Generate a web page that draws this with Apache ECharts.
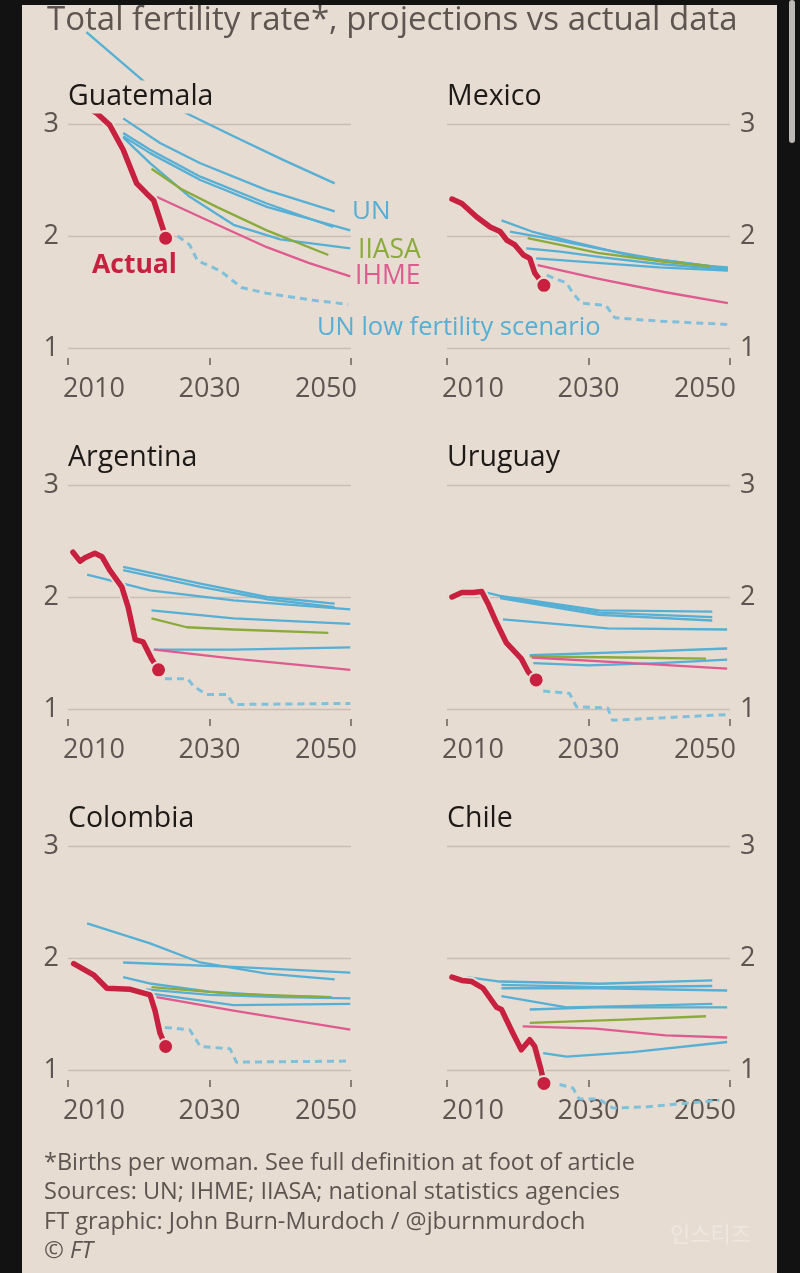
<!DOCTYPE html>
<html>
<head>
<meta charset="utf-8">
<script src="https://cdn.jsdelivr.net/npm/echarts@6/dist/echarts.min.js"></script>
<style>
html,body{margin:0;padding:0;background:#121212;}
#wrap{position:relative;width:800px;height:1273px;background:#121212;overflow:hidden;}
#paper{position:absolute;left:22px;top:5px;width:755px;height:1268px;background:#e7dcd2;}
#bar{position:absolute;left:789px;top:0;width:6px;height:143px;background:#bdb8b4;border-radius:3px;}
#chart{position:absolute;left:0;top:0;width:800px;height:1273px;}
</style>
</head>
<body>
<div id="wrap"><div id="paper"></div><div id="bar"></div><div id="chart"></div></div>
<script>
// ---------- DATA (year, births per woman) ----------
const xTicks = [2010, 2030, 2050];
const yTicks = [1, 2, 3];
const countries = ['Guatemala', 'Mexico', 'Argentina', 'Uruguay', 'Colombia', 'Chile'];

// Guatemala
const gtmActual = [[2012.9,3.14],[2014.0,3.10],[2015.9,2.99],[2017.8,2.77],[2019.7,2.47],[2021.1,2.38],[2022.1,2.32],[2023.5,2.05],[2023.8,1.98]];
const gtmUN = [
  [[2012.6,3.82],[2021.1,3.36],[2026.3,3.11],[2033.4,2.89],[2040.4,2.68],[2047.7,2.47]],
  [[2017.8,3.05],[2023.0,2.83],[2028.7,2.65],[2038.1,2.41],[2047.7,2.22]],
  [[2017.8,2.92],[2021.6,2.77],[2028.7,2.53],[2038.1,2.29],[2047.5,2.08]],
  [[2017.8,2.89],[2021.6,2.74],[2028.7,2.50],[2038.1,2.26],[2049.9,2.05]],
  [[2017.8,2.88],[2021.6,2.65],[2027.0,2.36],[2033.4,2.10],[2040.0,1.97],[2049.9,1.89]]
];
const gtmIIASA = [[2021.8,2.60],[2026.0,2.42],[2031.0,2.26],[2038.1,2.05],[2046.8,1.83]];
const gtmIHME = [[2022.5,2.35],[2028.7,2.17],[2038.1,1.90],[2044.0,1.76],[2049.9,1.64]];
const gtmLow = [[2025.5,2.00],[2027.2,1.92],[2028.3,1.78],[2031.5,1.69],[2033.3,1.60],[2034.5,1.54],[2038.0,1.49],[2041.0,1.46],[2045.5,1.42],[2049.6,1.39]];

// Mexico
const mexActual = [[2010.7,2.33],[2012.1,2.29],[2014.2,2.17],[2016.1,2.08],[2017.5,2.04],[2018.5,1.96],[2019.6,1.92],[2020.8,1.83],[2021.7,1.80],[2022.4,1.67],[2023.7,1.56]];
const mexUN = [
  [[2017.7,2.14],[2022.0,2.04],[2026.9,1.96],[2036.3,1.82],[2047.2,1.73],[2049.7,1.72]],
  [[2018.9,2.04],[2025.0,1.97],[2032.0,1.88],[2040.0,1.79],[2049.7,1.71]],
  [[2021.2,1.89],[2026.0,1.86],[2032.0,1.81],[2040.0,1.75],[2049.7,1.70]],
  [[2022.6,1.80],[2031.3,1.76],[2040.0,1.72],[2049.7,1.69]]
];
const mexIIASA = [[2021.4,1.98],[2026.0,1.92],[2031.3,1.85],[2040.7,1.77],[2047.2,1.73]];
const mexIHME = [[2022.8,1.74],[2031.3,1.62],[2040.7,1.50],[2049.7,1.40]];
const mexLow = [[2024.1,1.65],[2026.9,1.58],[2027.8,1.49],[2029.0,1.40],[2032.5,1.38],[2033.7,1.27],[2040.0,1.24],[2049.7,1.21]];

// Argentina
const argActual = [[2010.7,2.40],[2011.7,2.32],[2012.4,2.35],[2013.8,2.39],[2014.8,2.36],[2015.9,2.24],[2017.6,2.09],[2018.5,1.91],[2019.5,1.62],[2020.6,1.60],[2021.8,1.45],[2022.8,1.35]];
const argUN = [
  [[2017.8,2.27],[2028.7,2.12],[2038.1,2.00],[2047.7,1.94]],
  [[2017.8,2.24],[2028.7,2.09],[2038.1,1.98],[2047.7,1.91]],
  [[2012.7,2.20],[2021.6,2.06],[2033.4,1.97],[2049.9,1.89]],
  [[2021.8,1.88],[2033.4,1.81],[2049.9,1.76]],
  [[2022.1,1.53],[2033.4,1.53],[2049.9,1.55]]
];
const argIIASA = [[2021.8,1.81],[2026.8,1.73],[2033.4,1.71],[2046.8,1.68]];
const argIHME = [[2022.2,1.53],[2033.4,1.45],[2049.9,1.35]];
const argLow = [[2023.7,1.27],[2026.9,1.27],[2027.8,1.20],[2029.6,1.13],[2032.5,1.13],[2033.4,1.04],[2049.9,1.05]];

// Uruguay
const uryActual = [[2010.7,2.00],[2012.1,2.04],[2013.7,2.04],[2014.9,2.05],[2015.8,1.94],[2017.0,1.77],[2018.4,1.59],[2020.5,1.45],[2021.5,1.33],[2022.6,1.26]];
const uryUN = [
  [[2015.6,2.04],[2017.5,2.01],[2031.5,1.88],[2047.5,1.87]],
  [[2017.5,2.00],[2031.5,1.86],[2047.5,1.82]],
  [[2017.5,1.99],[2031.5,1.84],[2047.5,1.79]],
  [[2017.9,1.80],[2032.7,1.72],[2049.6,1.71]],
  [[2021.7,1.48],[2036.2,1.51],[2049.6,1.54]],
  [[2022.2,1.41],[2030.0,1.39],[2040.0,1.41],[2049.6,1.44]]
];
const uryIIASA = [[2021.7,1.47],[2035.0,1.46],[2046.6,1.45]];
const uryIHME = [[2022.0,1.46],[2036.2,1.41],[2049.6,1.36]];
const uryLow = [[2023.6,1.16],[2027.3,1.14],[2028.3,1.02],[2032.7,1.01],[2033.4,0.90],[2040.0,0.92],[2049.6,0.95]];

// Colombia
const colActual = [[2010.8,1.95],[2013.6,1.85],[2015.5,1.73],[2018.8,1.72],[2021.6,1.67],[2022.3,1.53],[2023.0,1.33],[2023.8,1.21]];
const colUN = [
  [[2012.7,2.31],[2021.6,2.13],[2028.7,1.96],[2038.1,1.86],[2047.7,1.81]],
  [[2017.8,1.96],[2033.4,1.92],[2049.9,1.87]],
  [[2017.8,1.83],[2021.8,1.77],[2030.0,1.70],[2040.0,1.66],[2047.3,1.65]],
  [[2021.0,1.72],[2030.0,1.67],[2040.0,1.65],[2049.9,1.64]],
  [[2022.0,1.68],[2033.4,1.58],[2049.9,1.59]]
];
const colIIASA = [[2021.8,1.74],[2033.4,1.68],[2047.0,1.65]];
const colIHME = [[2022.5,1.65],[2033.4,1.53],[2049.9,1.36]];
const colLow = [[2023.7,1.38],[2027.2,1.36],[2028.7,1.21],[2032.9,1.19],[2033.8,1.07],[2049.9,1.08]];

// Chile
const chlActual = [[2010.7,1.83],[2012.1,1.80],[2013.5,1.79],[2015.1,1.73],[2017.0,1.56],[2017.7,1.54],[2019.3,1.33],[2020.5,1.18],[2021.7,1.27],[2022.4,1.21],[2023.3,1.00],[2023.7,0.88]];
const chlUN = [
  [[2012.8,1.83],[2017.5,1.79],[2031.5,1.77],[2047.5,1.80]],
  [[2017.7,1.76],[2031.5,1.74],[2047.5,1.75]],
  [[2017.7,1.73],[2031.5,1.73],[2049.6,1.71]],
  [[2017.7,1.66],[2026.9,1.56],[2035.0,1.57],[2047.5,1.59]],
  [[2021.7,1.54],[2031.0,1.56],[2049.6,1.56]],
  [[2023.6,1.15],[2026.9,1.12],[2036.2,1.16],[2049.6,1.25]]
];
const chlIIASA = [[2021.7,1.42],[2035.0,1.45],[2046.6,1.48]];
const chlIHME = [[2020.7,1.39],[2031.0,1.37],[2040.9,1.31],[2049.6,1.29]];
const chlLow = [[2025.9,0.87],[2027.8,0.84],[2028.7,0.74],[2031.5,0.74],[2033.4,0.66],[2038.0,0.67],[2048.5,0.73]];

const footerLines = [
  '*Births per woman. See full definition at foot of article',
  'Sources: UN; IHME; IIASA; national statistics agencies',
  'FT graphic: John Burn-Murdoch / @jburnmurdoch'
];

// ---------- STYLE ----------
const BG = '#e7dcd2';
const FONT = '"Open Sans", Lato, sans-serif';
const GREY = '#5e5550';
const BLUE = '#56afd4';
const LOWBLUE = '#7fc0db';
const GREEN = '#8aab3c';
const PINK = '#df5b8f';
const RED = '#c7213f';

const panels = [
  {actual: gtmActual, un: gtmUN, iiasa: gtmIIASA, ihme: gtmIHME, low: gtmLow},
  {actual: mexActual, un: mexUN, iiasa: mexIIASA, ihme: mexIHME, low: mexLow},
  {actual: argActual, un: argUN, iiasa: argIIASA, ihme: argIHME, low: argLow},
  {actual: uryActual, un: uryUN, iiasa: uryIIASA, ihme: uryIHME, low: uryLow},
  {actual: colActual, un: colUN, iiasa: colIIASA, ihme: colIHME, low: colLow},
  {actual: chlActual, un: chlUN, iiasa: chlIIASA, ihme: chlIHME, low: chlLow}
];

const rowTop = [124, 485, 846];
const colLeft = [68, 447];
const W = 283, H = 224;

const grids = [], xAxes = [], yAxes = [], series = [], graphics = [];
const labStyle = {fontSize: 27, color: GREY, fontFamily: FONT};

panels.forEach((p, i) => {
  const r = Math.floor(i / 2), c = i % 2;
  grids.push({left: colLeft[c], top: rowTop[r], width: W, height: H});
  xAxes.push({
    gridIndex: i, type: 'value', min: xTicks[0], max: xTicks[xTicks.length - 1], interval: 20,
    offset: 10,
    axisLine: {show: false},
    axisTick: {show: true, length: 7, lineStyle: {color: '#6a605a', width: 1.5}},
    axisLabel: {margin: 18, fontSize: 27, color: GREY, fontFamily: FONT,
      formatter: v => v === xTicks[0] ? '{l|' + v + '}' : (v === xTicks[xTicks.length - 1] ? '{r|' + v + '}' : '{m|' + v + '}'),
      rich: {
        l: Object.assign({padding: [0, 0, 0, 52]}, labStyle),
        r: Object.assign({padding: [0, 50, 0, 0]}, labStyle),
        m: Object.assign({}, labStyle)
      }},
    splitLine: {show: false}
  });
  yAxes.push({
    gridIndex: i, type: 'value', min: yTicks[0], max: yTicks[yTicks.length - 1], interval: 1,
    position: c === 0 ? 'left' : 'right',
    axisLine: {show: false}, axisTick: {show: false},
    axisLabel: {margin: c === 0 ? 9 : 10, fontSize: 27, color: GREY, fontFamily: FONT},
    splitLine: {show: true, lineStyle: {color: '#cabdb3', width: 1.3}}
  });
  const base = {type: 'line', xAxisIndex: i, yAxisIndex: i, symbol: 'none', showSymbol: false,
    clip: false, silent: true, animation: false};
  p.un.forEach(line => series.push(Object.assign({}, base, {
    data: line, lineStyle: {color: BLUE, width: 2.3, join: 'round'}, z: 2})));
  series.push(Object.assign({}, base, {data: p.iiasa,
    lineStyle: {color: GREEN, width: 2.3, join: 'round'}, z: 3}));
  series.push(Object.assign({}, base, {data: p.ihme,
    lineStyle: {color: PINK, width: 2.3, join: 'round'}, z: 3}));
  series.push(Object.assign({}, base, {data: p.low,
    lineStyle: {color: LOWBLUE, width: 3, type: [7, 5]}, z: 3}));
  series.push(Object.assign({}, base, {data: p.actual,
    lineStyle: {color: BG, width: 9.5, cap: 'round', join: 'round'}, z: 4}));
  series.push(Object.assign({}, base, {data: p.actual,
    lineStyle: {color: RED, width: 5.5, cap: 'round', join: 'round'}, z: 5}));
  series.push({type: 'scatter', xAxisIndex: i, yAxisIndex: i, silent: true, animation: false, clip: false,
    data: [p.actual[p.actual.length - 1]], symbolSize: 15,
    itemStyle: {color: RED, borderColor: BG, borderWidth: 2, opacity: 1}, z: 6});

  // panel title
  graphics.push({type: 'text', z: 100, x: colLeft[c], y: rowTop[r] - 27,
    style: {text: countries[i], fill: '#1c1917', font: '28.5px ' + FONT,
      verticalAlign: 'middle', textVerticalAlign: 'middle',
      backgroundColor: BG, padding: [2, 2, 2, 0]}});
});

// main title
graphics.push({type: 'text', z: 100, x: 47, y: 21,
  style: {text: 'Total fertility rate*, projections vs actual data', fill: GREY,
    font: '33px ' + FONT, verticalAlign: 'middle', textVerticalAlign: 'middle'}});

// annotations (Guatemala panel)
const ann = [
  {t: 'UN', x: 352, y: 212, f: BLUE, w: 'normal', s: 26},
  {t: 'IIASA', x: 358, y: 250, f: GREEN, w: 'normal', s: 26.5},
  {t: 'IHME', x: 355, y: 276, f: PINK, w: 'normal', s: 26.5},
  {t: 'Actual', x: 92, y: 265, f: RED, w: 'bold', s: 26.5},
  {t: 'UN low fertility scenario', x: 317, y: 328, f: BLUE, w: 'normal', s: 25.5}
];
ann.forEach(a => graphics.push({type: 'text', z: 100, x: a.x, y: a.y,
  style: {text: a.t, fill: a.f, font: a.w + ' ' + a.s + 'px ' + FONT,
    verticalAlign: 'middle', textVerticalAlign: 'middle'}}));

// footer
footerLines.forEach((t, k) => graphics.push({type: 'text', z: 100, x: 44, y: 1163 + k * 29.5,
  style: {text: t, fill: GREY, font: '23.5px ' + FONT, verticalAlign: 'middle', textVerticalAlign: 'middle'}}));
graphics.push({type: 'text', z: 100, x: 44, y: 1251,
  style: {text: '©', fill: GREY, font: '24px ' + FONT, verticalAlign: 'middle', textVerticalAlign: 'middle'}});
graphics.push({type: 'text', z: 100, x: 70, y: 1251,
  style: {text: 'FT', fill: GREY, font: 'italic 23.5px ' + FONT, verticalAlign: 'middle', textVerticalAlign: 'middle'}});
// watermark
graphics.push({type: 'text', z: 100, x: 670, y: 1234,
  style: {text: '인스티즈', fill: '#efe7df', font: '22px "Noto Sans CJK KR"', verticalAlign: 'middle', textVerticalAlign: 'middle'}});

const chart = echarts.init(document.getElementById('chart'), null, {renderer: 'canvas'});
chart.setOption({
  backgroundColor: 'transparent',
  animation: false,
  grid: grids, xAxis: xAxes, yAxis: yAxes, series: series, graphic: graphics
});
</script>
</body>
</html>
